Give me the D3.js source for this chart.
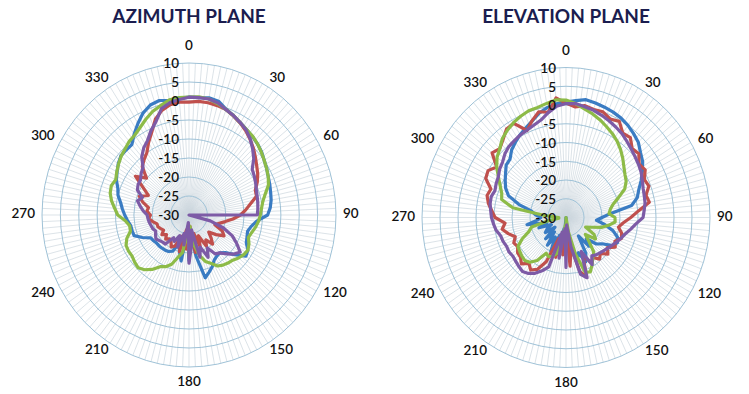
<!DOCTYPE html>
<html>
<head>
<meta charset="utf-8">
<script src="https://cdn.jsdelivr.net/npm/d3@7/dist/d3.min.js"></script>
<style>
  body { margin: 0; background: #fff; }
  text { font-family: Lato, "Open Sans", sans-serif; }
</style>
</head>
<body>
<svg id="chart" width="749" height="394"></svg>
<script>
// categories: one reading every 5 degrees, grid spokes every 2.5
const angles = d3.range(0, 360, 5);
const gridAngles = d3.range(0, 360, 2.5);
const ringTicks = [10, 5, 0, -5, -10, -15, -20, -25, -30];
const angleTicks = [0, 30, 60, 90, 120, 150, 180, 210, 240, 270, 300, 330];
const seriesColors = ['#3a7cc3', '#c0504d', '#8dbb48', '#7d5ba6'];

// azimuth plane (dB), 0..355 deg
const azBlue = [1, 1, 1.3, 1, -0.4, -1.2, -2, -2.6, -3.1, -3.6, -4.2, -5, -5.6, -6.2, -6.6, -7, -7.3, -7.8,
  -8.6, -11.5, -12.8, -13.5, -13.2, -12.8, -11.5, -11.1, -13.8, -16, -17, -16.8, -16.3, -15, -14, -12.9, -19, -25,
  -18, -26, -17.7, -20, -22, -19.5, -18.9, -18.7, -18.6, -18.5, -18.5, -18.2, -18, -16, -14.1, -14, -13.9, -13.2,
  -12.5, -11.8, -11.1, -10, -9.4, -8.2, -7.4, -6.5, -5.8, -5.8, -5.8, -4, -2.2, -0.4, 0.8, 1.2, 0.6, 0.8];
const azRed = [-0.3, 0, 0, -0.2, -0.5, -1.3, -2.1, -3, -4.1, -5.2, -6.4, -7.5, -8.4, -9.5, -10.8, -11, -13, -14.5,
  -16, -18, -20, -21.5, -22.5, -20, -19, -21, -23, -21.5, -20, -22, -20.5, -24, -21, -25, -20, -27,
  -23, -21, -26, -20, -24, -21, -20.3, -21.5, -21.8, -21, -22, -21, -22, -21.5, -21, -21, -20, -19,
  -19.5, -18.5, -18.8, -17, -15.6, -17.8, -15.6, -12.2, -14.9, -12, -11, -10, -8, -6, -3.2, -1.5, -0.5, -0.2];
const azGreen = [1, 1.2, 1, 0.3, -0.5, -1.2, -2, -2.6, -3, -3.6, -4.3, -5, -5.6, -6.2, -7, -8.5, -9.6, -10.2,
  -10.6, -11, -11.6, -12.3, -12.8, -12, -11.5, -11.8, -12.4, -13.2, -13.5, -13.9, -14.5, -16, -17, -19, -22, -27,
  -19, -26, -20, -18.5, -16.2, -15, -14.3, -12.5, -11.2, -10.4, -10.7, -11.1, -11, -11.1, -12, -13.5, -13.6, -12.6,
  -10.6, -9.7, -8.6, -7.8, -7.5, -8, -7.3, -6.6, -5.9, -5.4, -4.7, -4.3, -3.4, -2.2, -1, -0.2, 0.8, 1];
const azPurple = [1, 1, 1, 0.5, -0.5, -1.2, -2, -2.8, -4, -5.5, -7, -9, -9.5, -10, -10.5, -10.8, -11, -11.2,
  -11.4, -30, -30, -24, -20, -17, -15, -13, -14, -15.5, -17, -17.5, -20, -17.7, -21, -18.5, -26, -22,
  -17.3, -28, -22, -25, -21, -24, -22, -22.7, -20, -19.9, -19.5, -19, -19.5, -20, -19.5, -19.3, -19, -18.8,
  -18.6, -17.5, -16.5, -15.5, -16.5, -14.5, -14, -13.9, -13, -12.3, -10, -8.5, -7.4, -5.5, -3.8, -1, 0, 0.5];

// elevation plane (dB), 0..355 deg
const elBlue = [0.8, 1.3, 1.9, 1.6, 1.3, 1, 0.6, 0, -0.8, -1.6, -3, -4, -5.5, -7, -8.5, -9.5, -11.5, -17.5,
  -20, -21.5, -19, -16.5, -14.8, -14.2, -15, -17.8, -19, -22, -20, -24, -19, -17, -20, -18, -24, -21,
  -30, -22, -27, -21, -25, -20, -24, -21, -25, -22, -26, -23, -24, -25.5, -22, -24.4, -19, -22,
  -23, -21.5, -20.3, -16.4, -13, -11.5, -10.5, -9.5, -8.3, -8, -6.5, -5.5, -4.5, -3.6, -2.6, -1.2, -0.2, 0.4];
const elRed = [0.5, -0.4, 0.3, -0.2, 0, -1, -0.4, -2.5, -2.2, -4, -3.6, -5.2, -4.6, -6, -5.5, -7, -6.5, -9.8,
  -12, -14, -15.2, -14, -13.6, -15, -14.2, -16, -14.8, -16.5, -15.5, -17, -16, -19, -13.2, -15, -22, -17,
  -28, -20, -26, -19, -24, -17, -14, -12.9, -14, -12.5, -13.5, -13.6, -14.5, -14, -15, -13.4, -12, -13,
  -10.3, -9.3, -8.1, -7.3, -7.8, -5.4, -5, -6.5, -3.2, -4, -2.8, -1.2, -1, -4.4, -2.5, -0.8, -1.5, 2];
const elGreen = [1.3, 0.5, -0.6, -1.4, -2.3, -3.3, -4.2, -5.2, -6.4, -7.7, -9, -10, -10.7, -12, -14.5, -16.5, -17.5, -18,
  -16.4, -16.3, -18, -19.8, -22.4, -24, -21, -20, -23, -21, -18, -17, -15.5, -14, -14.5, -20, -26, -30,
  -22, -28, -24, -20, -19, -18.5, -19, -16, -14.4, -13.8, -14, -14.3, -14.6, -16.6, -19, -20.1, -25, -28,
  -28, -24, -15, -11.5, -11, -9.8, -8.3, -6.5, -5, -4, -2.5, -1.6, -0.8, -0.2, 0.3, 0.4, 0.9, 1.5];
const elPurple = [0.4, 0.5, 0, -0.4, -1, -1.6, -2.2, -2.8, -3.6, -4.3, -4.9, -5.4, -5.9, -6.6, -7.2, -7.5, -7.7, -8.2,
  -8.6, -10.5, -11.8, -13, -13.8, -14.5, -15.2, -15.8, -16.3, -16.7, -17, -17.5, -15.5, -20, -12.9, -14.3, -22, -28,
  -16.7, -27, -19, -26, -16, -14.3, -12.8, -11.8, -11.2, -11.5, -11.8, -12, -11.7, -11.8, -11.4, -11.2, -10.3, -9.8,
  -9.3, -9, -8.6, -8.5, -9, -8.6, -8.3, -7.5, -7, -6, -5.3, -5, -4.6, -4.3, -3.8, -3.1, -1.6, -0.2];

const plots = [
  { title: 'AZIMUTH PLANE', cx: 189, cy: 215, rx: 147, ry: 152, series: [azBlue, azRed, azGreen, azPurple] },
  { title: 'ELEVATION PLANE', cx: 566, cy: 217.5, rx: 144, ry: 150, series: [elBlue, elRed, elGreen, elPurple] }
];

const svg = d3.select('#chart');
const rScale = d3.scaleLinear().domain([-30, 10]).range([0, 1]).clamp(true);
const aScale = d3.scaleLinear().domain([0, 360]).range([0, 2 * Math.PI]);

plots.forEach(p => {
  const g = svg.append('g');
  const px = (deg, v) => p.cx + Math.sin(aScale(deg)) * rScale(v) * p.rx;
  const py = (deg, v) => p.cy - Math.cos(aScale(deg)) * rScale(v) * p.ry;

  // spokes
  g.selectAll('.spoke').data(gridAngles).enter().append('line')
    .attr('x1', p.cx).attr('y1', p.cy)
    .attr('x2', d => px(d, 10)).attr('y2', d => py(d, 10))
    .attr('stroke', '#cdd7de').attr('stroke-width', 0.7);

  // rings
  g.selectAll('.ring').data(ringTicks.filter(t => t > -30)).enter().append('ellipse')
    .attr('cx', p.cx).attr('cy', p.cy)
    .attr('rx', d => rScale(d) * p.rx).attr('ry', d => rScale(d) * p.ry)
    .attr('fill', 'none').attr('stroke', '#9fc2d7').attr('stroke-width', 1);

  // series
  const line = d3.line()
    .x(d => px(d.a, d.v)).y(d => py(d.a, d.v))
    .curve(d3.curveLinearClosed);
  p.series.forEach((vals, i) => {
    g.append('path')
      .datum(vals.map((v, k) => ({ a: angles[k], v })))
      .attr('d', line)
      .attr('fill', 'none')
      .attr('stroke', seriesColors[i])
      .attr('stroke-width', 3.2)
      .attr('stroke-linejoin', 'round');
  });

  // radial tick labels
  g.selectAll('.rtick').data(ringTicks).enter().append('text')
    .attr('x', p.cx - 10)
    .attr('y', d => py(0, d) + 2)
    .attr('text-anchor', 'end')
    .attr('dominant-baseline', 'middle')
    .attr('font-size', 13.5)
    .attr('font-weight', 600)
    .attr('fill', '#111')
    .text(d => d);

  // angle labels
  g.selectAll('.atick').data(angleTicks).enter().append('text')
    .each(function (d) {
      const s = Math.sin(aScale(d)), c = Math.cos(aScale(d));
      const t = d3.select(this);
      const x0 = px(d, 10), y0 = py(d, 10);
      if (Math.abs(s) < 0.01) {
        t.attr('x', x0).attr('y', y0 - c * 16).attr('text-anchor', 'middle');
      } else {
        t.attr('x', x0 + (s > 0 ? 7 : -7)).attr('y', y0 - c * 5)
          .attr('text-anchor', s > 0 ? 'start' : 'end');
      }
    })
    .attr('dominant-baseline', 'middle')
    .attr('font-size', 13.5)
    .attr('font-weight', 600)
    .attr('fill', '#111')
    .text(d => d);

  // title
  svg.append('text')
    .attr('x', p.cx)
    .attr('y', 18)
    .attr('text-anchor', 'middle')
    .attr('dominant-baseline', 'middle')
    .attr('font-size', 19)
    .attr('font-weight', 'bold')
    .attr('fill', '#1b1d4f')
    .text(p.title);
});
</script>
</body>
</html>
